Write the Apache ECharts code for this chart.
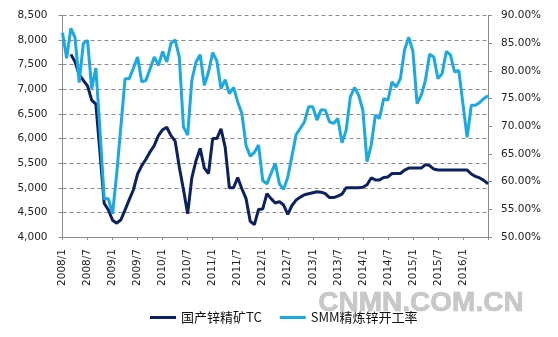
<!DOCTYPE html>
<html>
<head>
<meta charset="utf-8">
<script src="https://cdn.jsdelivr.net/npm/echarts@6/dist/echarts.min.js"></script>
<style>
  html, body { margin: 0; padding: 0; background: #fff; }
  #chart { width: 558px; height: 337px; }
</style>
</head>
<body>
<div id="chart"></div>
<script>
// Monthly categories, 2008/1 through 2016/7
const months = [];
for (let y = 2008; y <= 2016; y++) {
  for (let m = 1; m <= 12; m++) {
    if (y === 2016 && m > 7) break;
    months.push(y + '/' + m);
  }
}

// Domestic zinc concentrate TC (yuan/t), left axis
const tcValues = [
  null, null, 7710, 7560, 7300, 7180, 7070, 6780, 6700, 5700, 4680, 4550,
  4340, 4280, 4350, 4550, 4760, 4960, 5280, 5450, 5580, 5730, 5860, 6060,
  6180, 6230, 6060, 5950, 5420, 4960, 4470, 5200, 5550, 5800, 5400, 5290,
  6000, 6000, 6200, 5820, 5000, 5000, 5210, 4980, 4780, 4320, 4250, 4560,
  4570, 4880, 4780, 4690, 4720, 4650, 4460, 4640, 4750, 4810, 4860, 4880,
  4900, 4920, 4910, 4880, 4800, 4800, 4830, 4870, 5000, 5000, 5000, 5000,
  5010, 5060, 5200, 5160, 5160, 5210, 5220, 5290, 5290, 5290, 5360, 5400,
  5400, 5400, 5400, 5470, 5450, 5380, 5360, 5360, 5360, 5360, 5360, 5360,
  5360, 5360, 5280, 5230, 5200, 5150, 5080
];

// SMM refined zinc operating rate (%), right axis
const rateValues = [
  86.9, 82.3, 87.7, 86.0, 77.9, 85.0, 85.5, 76.8, 80.5, 69.0, 56.9, 56.9,
  54.2, 61.5, 70.0, 78.6, 78.6, 80.5, 82.5, 78.0, 78.3, 80.4, 82.5, 81.0,
  83.5, 81.6, 85.0, 85.6, 82.5, 69.9, 68.4, 78.3, 81.6, 82.9, 77.4, 79.8,
  83.3, 81.8, 76.8, 78.4, 75.9, 77.0, 74.4, 72.3, 66.5, 64.6, 65.3, 66.6,
  60.2, 59.6, 61.5, 63.3, 59.6, 58.6, 60.8, 64.6, 68.5, 69.6, 70.8, 73.5,
  73.5, 71.1, 73.0, 72.9, 70.8, 70.5, 71.4, 67.0, 69.3, 75.3, 77.0, 75.6,
  72.9, 63.6, 66.6, 72.0, 71.4, 75.0, 74.7, 78.0, 77.1, 78.6, 83.8, 86.1,
  83.5, 74.1, 75.6, 78.3, 83.0, 82.5, 78.6, 79.5, 83.5, 82.9, 79.8, 80.1,
  74.0, 68.0, 73.8, 73.8, 74.3, 75.0, 75.5
];

const seriesNames = ['国产锌精矿TC', 'SMM精炼锌开工率'];
const tcColor = '#0c2161';
const rateColor = '#1aa9e3';

const labelFont = 'DejaVu Sans, Verdana, sans-serif';
const chart = echarts.init(document.getElementById('chart'), null, { renderer: 'canvas' });

chart.setOption({
  animation: false,
  backgroundColor: '#ffffff',
  grid: { left: 62.5, right: 70, top: 15.5, bottom: 100, containLabel: false },
  legend: {
    data: seriesNames.map(n => ({ name: n, icon: 'rect' })),
    left: 145, top: 306,
    itemWidth: 26, itemHeight: 3, itemGap: 18,
    textStyle: { fontFamily: 'Noto Sans CJK SC, sans-serif', fontSize: 13, color: '#111' }
  },
  xAxis: {
    type: 'category',
    data: months,
    boundaryGap: false,
    axisLine: { lineStyle: { color: '#8c8c8c', width: 1 } },
    axisTick: { show: true, interval: 5, length: 3, lineStyle: { color: '#8c8c8c' } },
    axisLabel: {
      interval: (i) => i % 6 === 0 && i < months.length - 1,
      rotate: 90,
      margin: 12,
      fontFamily: labelFont,
      fontSize: 10.5,
      color: '#222'
    },
    splitLine: { show: false }
  },
  yAxis: [
    {
      type: 'value', min: 4000, max: 8500, interval: 500,
      axisLine: { show: true, lineStyle: { color: '#8c8c8c' } },
      axisTick: { show: true, length: 4, inside: false, lineStyle: { color: '#8c8c8c' } },
      axisLabel: {
        margin: 15, fontFamily: labelFont, fontSize: 10.5, color: '#222',
        formatter: v => v.toLocaleString('en-US')
      },
      splitLine: { show: true, lineStyle: { color: '#8a8a8a', type: [4, 3], width: 1 } }
    },
    {
      type: 'value', min: 50, max: 90, interval: 5,
      axisLine: { show: true, lineStyle: { color: '#8c8c8c' } },
      axisTick: { show: true, length: 4, lineStyle: { color: '#8c8c8c' } },
      axisLabel: {
        margin: 13, fontFamily: labelFont, fontSize: 10.5, color: '#222',
        formatter: v => v.toFixed(2) + '%'
      },
      splitLine: { show: false }
    }
  ],
  series: [
    {
      name: seriesNames[0], type: 'line', yAxisIndex: 0,
      data: tcValues, showSymbol: false, symbol: 'none',
      lineStyle: { color: tcColor, width: 3 }, itemStyle: { color: tcColor }
    },
    {
      name: seriesNames[1], type: 'line', yAxisIndex: 1,
      data: rateValues, showSymbol: false, symbol: 'none',
      lineStyle: { color: rateColor, width: 3 }, itemStyle: { color: rateColor }
    }
  ],
  graphic: [
    {
      type: 'text', left: 318, top: 289, z: 100,
      style: {
        text: 'CNMN.COM.CN',
        font: 'bold 28px "Liberation Sans", Arial, sans-serif',
        fill: '#c8c8c8',
        stroke: '#b4b4b4', lineWidth: 0.6
      }
    }
  ]
});
</script>
</body>
</html>
